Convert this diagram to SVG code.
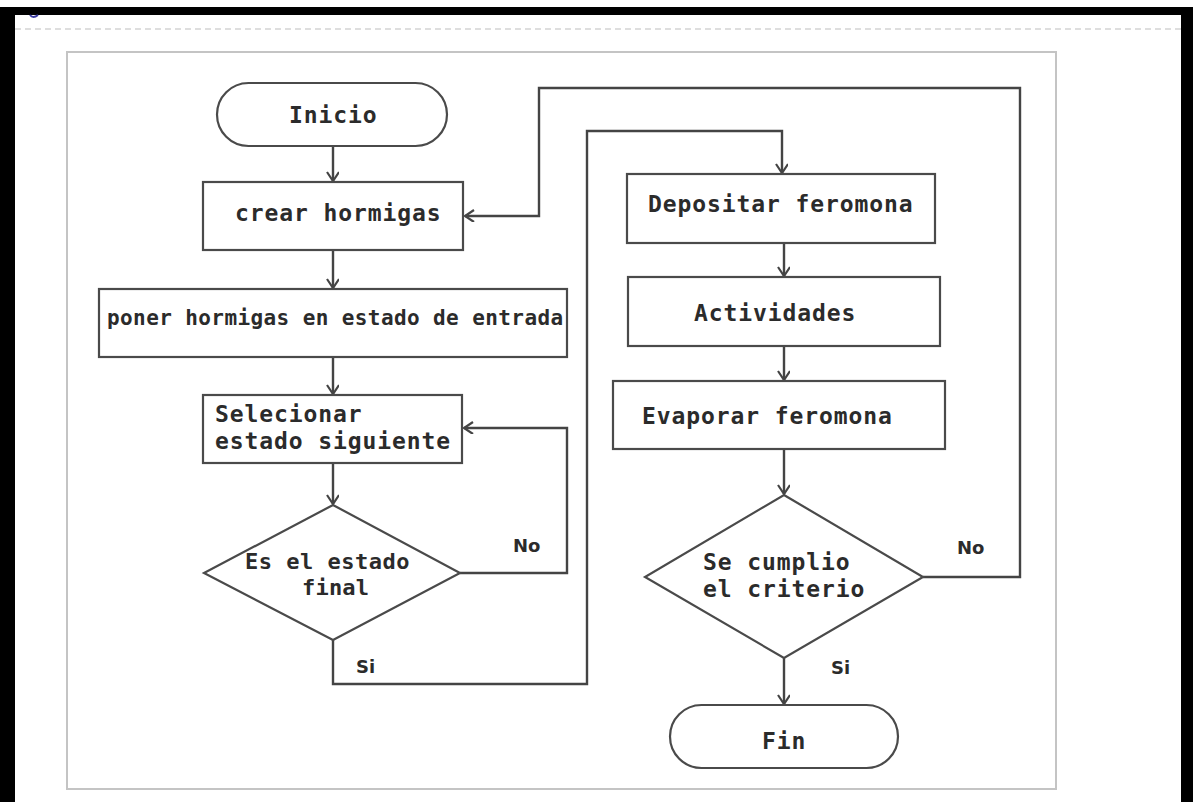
<svg xmlns="http://www.w3.org/2000/svg" width="1193" height="802" viewBox="0 0 1193 802">
  <style>
    .frame { fill: #000; }
    .sheet { fill: #fff; stroke: #c4c4c4; stroke-width: 2; }
    .shape { fill: #fff; stroke: #4a4a4a; stroke-width: 2.2; }
    .wire { fill: none; stroke: #444; stroke-width: 2.4; }
    .mono { font-family: "DejaVu Sans Mono", "Liberation Mono", monospace; font-weight: bold; font-size: 23px; letter-spacing: 0.9px; fill: #2b2b2b; }
    .tag { font-family: "DejaVu Sans", "Liberation Sans", sans-serif; font-weight: bold; font-size: 18px; fill: #2b2b2b; }
  </style>
  <defs>
    <marker id="arrow" markerWidth="14" markerHeight="14" refX="10" refY="6" orient="auto" markerUnits="userSpaceOnUse">
      <path d="M1,0 L10,6 L1,12" fill="none" stroke="#444" stroke-width="2.2"/>
    </marker>
  </defs>

  <!-- page background and black frame -->
  <rect x="0" y="0" width="1193" height="802" fill="#fff"/>
  <rect class="frame" x="0" y="7" width="15" height="795"/>
  <rect class="frame" x="0" y="7" width="1193" height="8"/>
  <rect class="frame" x="1181" y="7" width="12" height="795"/>
  <path d="M30,15 q3,4 8,0" fill="none" stroke="#3a3aa0" stroke-width="2"/>
  <line x1="15" y1="29" x2="1181" y2="29" stroke="#bdbdbd" stroke-width="1.2" stroke-dasharray="6 4"/>

  <!-- drawing sheet -->
  <rect class="sheet" x="67" y="52" width="989" height="737"/>

  <!-- connectors -->
  <g id="connectors">
    <line class="wire" x1="333" y1="146" x2="333" y2="181" marker-end="url(#arrow)"/>
    <line class="wire" x1="333" y1="250" x2="333" y2="288" marker-end="url(#arrow)"/>
    <line class="wire" x1="333" y1="357" x2="333" y2="394" marker-end="url(#arrow)"/>
    <line class="wire" x1="333" y1="463" x2="333" y2="504" marker-end="url(#arrow)"/>
    <!-- No: back to Selecionar -->
    <polyline class="wire" points="460,573 567,573 567,428 464,428" marker-end="url(#arrow)"/>
    <!-- Si: on to Depositar -->
    <polyline class="wire" points="333,640 333,684 587,684 587,131 782,131 782,173" marker-end="url(#arrow)"/>
    <line class="wire" x1="784" y1="243" x2="784" y2="276" marker-end="url(#arrow)"/>
    <line class="wire" x1="784" y1="346" x2="784" y2="380" marker-end="url(#arrow)"/>
    <line class="wire" x1="784" y1="449" x2="784" y2="494" marker-end="url(#arrow)"/>
    <!-- No: back to crear hormigas -->
    <polyline class="wire" points="923,577 1020,577 1020,88 539,88 539,216 465,216" marker-end="url(#arrow)"/>
    <line class="wire" x1="784" y1="658" x2="784" y2="704" marker-end="url(#arrow)"/>
  </g>

  <g id="inicio">
    <rect class="shape" x="217" y="83" width="230" height="63" rx="31.5"/>
    <text class="mono" x="289" y="123">Inicio</text>
  </g>

  <g id="crear-hormigas">
    <rect class="shape" x="203" y="182" width="260" height="68"/>
    <text class="mono" x="235" y="221">crear hormigas</text>
  </g>

  <g id="poner-hormigas">
    <rect class="shape" x="99" y="289" width="468" height="68"/>
    <text class="mono" x="107" y="325" style="font-size:21px;letter-spacing:0.4px">poner hormigas en estado de entrada</text>
  </g>

  <g id="selecionar">
    <rect class="shape" x="203" y="395" width="259" height="68"/>
    <text class="mono" x="215" y="422">Selecionar</text>
    <text class="mono" x="215" y="449">estado siguiente</text>
  </g>

  <g id="es-estado-final">
    <polygon class="shape" points="333,505 460,573 333,640 204,573"/>
    <text class="mono" x="245" y="569" style="font-size:22px;letter-spacing:0.5px">Es el estado</text>
    <text class="mono" x="302" y="595" style="font-size:22px;letter-spacing:0.2px">final</text>
  </g>

  <g id="depositar">
    <rect class="shape" x="627" y="174" width="308" height="69"/>
    <text class="mono" x="648" y="212">Depositar feromona</text>
  </g>

  <g id="actividades">
    <rect class="shape" x="628" y="277" width="312" height="69"/>
    <text class="mono" x="694" y="321">Actividades</text>
  </g>

  <g id="evaporar">
    <rect class="shape" x="613" y="381" width="332" height="68"/>
    <text class="mono" x="642" y="424">Evaporar feromona</text>
  </g>

  <g id="se-cumplio">
    <polygon class="shape" points="784,495 923,577 784,658 645,577"/>
    <text class="mono" x="703" y="570">Se cumplio</text>
    <text class="mono" x="703" y="597">el criterio</text>
  </g>

  <g id="fin">
    <rect class="shape" x="670" y="705" width="228" height="63" rx="31.5"/>
    <text class="mono" x="762" y="749">Fin</text>
  </g>

  <!-- branch labels -->
  <g id="labels">
    <text class="tag" x="513" y="552">No</text>
    <text class="tag" x="356" y="673">Si</text>
    <text class="tag" x="957" y="554">No</text>
    <text class="tag" x="831" y="674">Si</text>
  </g>
</svg>
